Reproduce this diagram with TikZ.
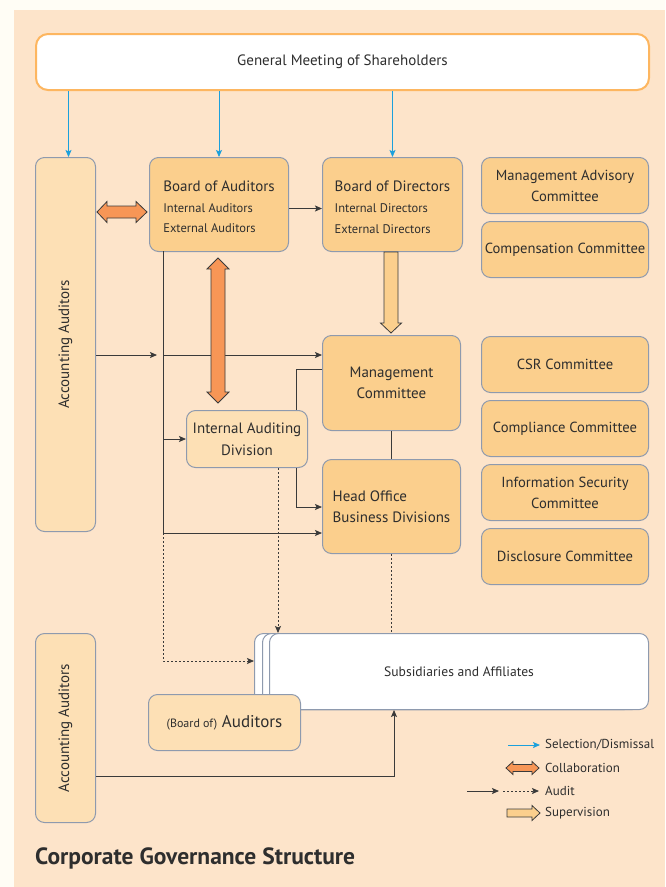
\documentclass[tikz,border=0pt]{standalone}
\usepackage{fontspec}
\setmainfont{PT Sans}
\usetikzlibrary{arrows.meta,calc}
\definecolor{outerbg}{HTML}{FFFDF5}
\definecolor{panel}{HTML}{FDE4CA}
\definecolor{boxdark}{HTML}{FBCF8D}
\definecolor{boxlight}{HTML}{FDE0B5}
\definecolor{bord}{HTML}{8E9AAE}
\definecolor{gmbord}{HTML}{FDB660}
\definecolor{selblue}{HTML}{1BA0DC}
\definecolor{collabc}{HTML}{F79656}
\definecolor{ink}{HTML}{2E2E2E}
\definecolor{lineink}{HTML}{3A3A3A}
\begin{document}
\begin{tikzpicture}[x=1pt,y=-1pt,
  box/.style={draw=bord, line width=1pt, rounded corners=9pt, anchor=north west,
    inner sep=0pt, text=ink, align=center, font=\fontsize{15}{21}\selectfont},
  dark/.style={box, fill=boxdark},
  light/.style={box, fill=boxlight},
  comm/.style={dark, minimum width=167pt, minimum height=56pt, font=\fontsize{14.6}{21}\selectfont},
  sel/.style={draw=selblue, line width=0.8pt, -{Stealth[length=7pt,width=6pt,inset=1.5pt]}},
  plain/.style={draw=lineink, line width=0.8pt},
  aud/.style={plain, -{Stealth[length=7pt,width=6pt,inset=1.5pt]}},
  dot/.style={plain, dash pattern=on 2pt off 2pt},
  blk/.style={draw=lineink, line width=0.8pt, line join=miter},
  lgtext/.style={anchor=west, text=ink, inner sep=0pt, font=\fontsize{13}{15}\selectfont},
]
\fill[outerbg] (0,0) rectangle (665,887);
\useasboundingbox (0,0) rectangle (665,887);
\fill[panel] (14,10) rectangle (665,887);

% top
\node[box, draw=gmbord, line width=2pt, fill=white, rounded corners=12pt,
  minimum width=613pt, minimum height=56pt] (gm) at (35,33) {General Meeting of Shareholders};

% left accounting auditors
\node[light, minimum width=60pt, minimum height=374pt] (acc1) at (35,157) {\rotatebox{90}{Accounting Auditors}};
\node[light, minimum width=60pt, minimum height=189pt] (acc2) at (35,633) {\rotatebox{90}{Accounting Auditors}};

% boards
\node[dark, minimum width=139pt, minimum height=94pt, align=left] (boa) at (149,157)
  {\rule{0pt}{14.5pt}Board of Auditors\\[0pt]{\fontsize{12.5}{20}\selectfont Internal Auditors}\\[-1pt]{\fontsize{12.5}{20}\selectfont External Auditors}};
\node[dark, minimum width=140pt, minimum height=94pt, align=left] (bod) at (322,157)
  {\rule{0pt}{16.5pt}Board of Directors\\[0pt]{\fontsize{12.5}{22}\selectfont Internal Directors}\\{\fontsize{12.5}{22}\selectfont External Directors}};

\node[dark, minimum width=138pt, minimum height=95pt] (mgmt) at (322,335) {Management\\Committee};
\node[dark, minimum width=138pt, minimum height=94pt, align=left] (ho) at (322,459) {Head Office\\Business Divisions};
\node[light, minimum width=121pt, minimum height=57pt, font=\fontsize{15}{22}\selectfont] (iad) at (186,410) {Internal Auditing\\Division};

% committees
\node[comm] (mac) at (481,157) {Management Advisory\\Committee};
\node[comm] (cpc) at (481,221) {Compensation Committee};
\node[comm] (csr) at (481,336) {CSR Committee};
\node[comm] (cmp) at (481,400) {Compliance Committee};
\node[comm] (isc) at (481,464) {Information Security\\Committee};
\node[comm] (dsc) at (481,528) {Disclosure Committee};

% subsidiaries
\node[box, fill=white, minimum width=379pt, minimum height=76pt] (sub3) at (254,633) {};
\node[box, fill=white, minimum width=379pt, minimum height=76pt] (sub2) at (262,633) {};
\node[box, fill=white, minimum width=379pt, minimum height=76pt, font=\fontsize{13.6}{20}\selectfont] (sub) at (269,633) {Subsidiaries and Affiliates};
\node[light, minimum width=152pt, minimum height=56pt, font=\fontsize{17}{20}\selectfont] (sboa) at (148,694) {{\fontsize{12}{14}\selectfont (Board of)} Auditors};

% selection arrows
\draw[sel] ([xshift=3pt]acc1.north |- gm.south) -- ([xshift=3pt]acc1.north);
\draw[sel] (boa.north |- gm.south) -- (boa.north);
\draw[sel] (bod.north |- gm.south) -- (bod.north);

% audit lines
\draw[aud] ([yshift=-4pt]boa.east) -- ([yshift=-4pt]bod.west);
\coordinate (s1) at (163,251);
\coordinate (s2) at (163,355);
\coordinate (s3) at (163,439);
\coordinate (s4) at (163,533);
\coordinate (s5) at (163,661);
\draw[plain] (s1) -- (s4);
\draw[aud] (acc1.east |- s2) -- ([xshift=-6pt]s2);
\draw[aud] (s2) -- (mgmt.west |- s2);
\draw[aud] (s3) -- (iad.west |- s3);
\draw[aud] (s4) -- (ho.west |- s4);
\draw[dot, -{Stealth[length=7pt,width=6pt,inset=1.5pt]}] (s4) -- (s5) -- (sub3.west |- s5);

\coordinate (l1) at (296,369);
\coordinate (l2) at (296,507);
\draw[plain] (mgmt.west |- l1) -- (l1) -- (l1 |- iad.north);
\draw[aud] (l1 |- iad.south) -- (l2) -- (ho.west |- l2);
\draw[plain] (mgmt.south) -- (ho.north);
\draw[dot] (ho.south) -- (ho.south |- sub.north);
\coordinate (ax) at (278,0);
\draw[dot, -{Stealth[length=7pt,width=6pt,inset=1.5pt]}] (ax |- iad.south) -- (ax |- sub3.north);
\coordinate (b1) at (394,776);
\draw[aud] (acc2.east |- b1) -- (b1) -- (b1 |- sub.south);

% block arrows
\draw[blk, fill=collabc] (97,212) -- (107,201.5) -- (107,206) -- (136,206) -- (136,201.5) -- (147,212)
  -- (136,222.5) -- (136,218) -- (107,218) -- (107,222.5) -- cycle;
\draw[blk, fill=collabc] (218,258) -- (229,269) -- (225,269) -- (225,392) -- (229,392) -- (218,403)
  -- (207,392) -- (211,392) -- (211,269) -- (207,269) -- cycle;
\draw[blk, fill=boxdark] (384,252) -- (398,252) -- (398,323) -- (401.5,323) -- (391,333)
  -- (380.5,323) -- (384,323) -- cycle;

% legend
\coordinate (lg1a) at (508,745); \coordinate (lg1b) at (540,745);
\draw[sel] (lg1a) -- (lg1b);
\node[lgtext] (lgt1) at (545,745) {Selection/Dismissal};
\draw[blk, fill=collabc] (506,768) -- (513,761.5) -- (513,764.5) -- (532,764.5) -- (532,761.5) -- (539,768)
  -- (532,774.5) -- (532,771.5) -- (513,771.5) -- (513,774.5) -- cycle;
\node[lgtext] (lgt2) at (545,768) {Collaboration};
\coordinate (lg3a) at (467,791); \coordinate (lg3b) at (499,791);
\coordinate (lg3c) at (503,791); \coordinate (lg3d) at (539,791);
\draw[aud] (lg3a) -- (lg3b);
\draw[dot, -{Stealth[length=7pt,width=6pt,inset=1.5pt]}] (lg3c) -- (lg3d);
\node[lgtext] (lgt3) at (545,791) {Audit};
\draw[blk, fill=boxdark] (507,809) -- (532,809) -- (532,805.5) -- (540,813) -- (532,820.5) -- (532,817) -- (507,817) -- cycle;
\node[lgtext] (lgt4) at (545,813) {Supervision};

% title
\node[anchor=west, inner sep=0pt, text=ink, font=\fontsize{23.5}{28}\selectfont\bfseries] (title) at (35,858) {Corporate Governance Structure};
\end{tikzpicture}
\end{document}
